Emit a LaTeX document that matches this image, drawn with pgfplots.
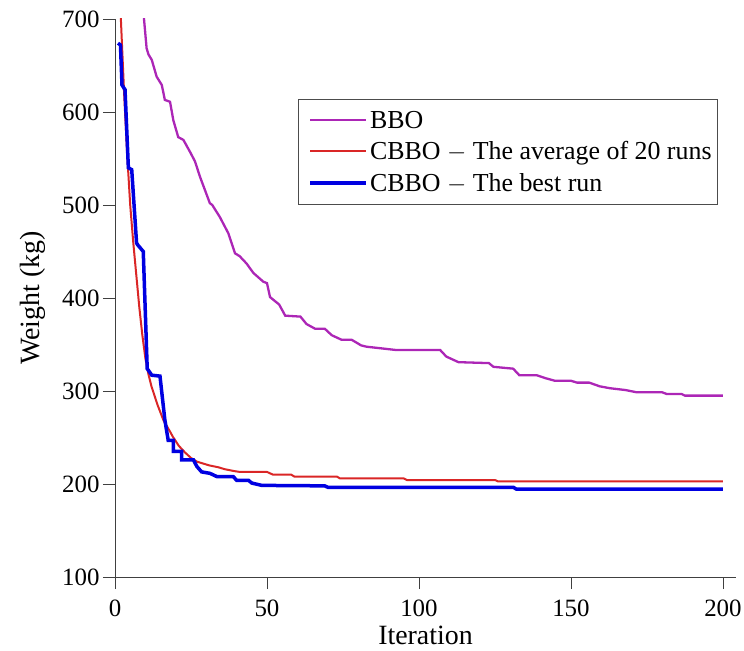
\documentclass[border=0pt]{standalone}
\usepackage{pgfplots}
\pgfplotsset{compat=1.18}
\usepackage{fontspec}
\setmainfont{Liberation Serif}
\definecolor{bbo}{RGB}{172,38,182}
\definecolor{cavg}{RGB}{218,38,38}
\definecolor{cbest}{RGB}{0,0,225}
\begin{document}
\begin{tikzpicture}
\begin{axis}[
  scale only axis,
  width=621bp, height=558bp,
  xmin=0, xmax=204.3, ymin=100, ymax=700,
  axis x line=bottom, axis y line=left,
  axis line style={-, line width=0.8bp, black!75},
  xtick={0,50,100,150,200},
  ytick={100,200,300,400,500,600,700},
  tick align=outside,
  major tick length=12bp,
  tick style={line width=0.8bp, black!75},
  /pgf/number format/assume math mode=true,
  ticklabel style={font=\fontsize{25}{30}\selectfont},
  xticklabel style={yshift=-7bp},
  xlabel={Iteration},
  ylabel={Weight (kg)},
  label style={font=\fontsize{28}{33}\selectfont},
  xlabel style={yshift=-3bp},
  ylabel style={yshift=10bp},
  legend cell align=left,
  legend style={at={(0.971,0.8565)}, anchor=north east,
    draw=black!70, line width=0.8bp,
    font=\fontsize{26}{31}\selectfont,
    row sep=8bp, inner xsep=4bp, inner ysep=9.5bp},
  legend image code/.code={\path (0bp,0bp); \draw[#1] (6bp,0bp) -- (62bp,0bp);},
  clip=true,
]
\addplot[color=bbo, line width=2.3bp] coordinates {
(9,720) (10.4,668.5) (11,662) (12.1,656) (13.7,638) (15.4,629) (16.4,613) (18.1,611)
(19.2,591) (20.8,573) (22.5,570) (24.7,557) (26.3,547) (28,530) (31.2,502) (32,500)
(34.5,487) (37.3,469.5) (39.5,448) (41,445) (43.3,437) (45.5,427) (48.8,417.5) (50,416)
(51,401) (54,393) (56,381) (61,380) (63,372) (65.8,367) (69,367) (71.3,360) (74.6,355)
(77.9,355) (81,349) (82.8,347.6) (87.2,346) (92.7,344) (107,344) (109,337) (113,331)
(123,330) (124.5,326) (131,324) (133,317) (138.7,317) (141.4,314) (144.7,311) (150,311)
(152,309) (156,309) (159.5,305) (162.8,303) (168,301) (171.6,298.6) (180,298.6)
(181.5,296.8) (186.4,296.8) (187.5,295) (200,295)
};
\addlegendentry{BBO}
\addplot[color=cavg, line width=2bp] coordinates {
(1,770) (2,695) (3,620) (4,555) (5,500) (6,460) (7,425) (8,390) (9,360) (10,335)
(11,318) (12,305) (13,295) (14,285) (16,268) (18,257) (19,251) (21,241) (23,234)
(25,228) (27,224) (29,222) (31,220) (34,218) (36,216) (39,214) (41,213) (50,213)
(52,210) (58,210) (59,208) (73,208) (74,206) (95,206) (96,204.3) (125,204.3)
(126,202.8) (200,202.8)
};
\addlegendentry{CBBO $-$ The average of 20 runs}
\addplot[color=cbest, line width=3.5bp] coordinates {
(1,674) (1.8,672) (2.3,629) (3.3,624) (4.4,540) (5.5,538) (7.1,459) (7.5,457)
(9.3,450) (10.6,324) (12.1,317) (14.8,316) (16.4,269) (17.5,247) (19.2,247) (19.2,235)
(21.9,235) (21.9,226) (25.8,226) (26.9,219) (28.5,213) (31.2,211.5) (33.5,208)
(38.9,208) (40,204) (43.9,204) (45,201) (48.3,198.5) (69,198) (70,196.5) (131,196.5)
(132,194.6) (200,194.6)
};
\addlegendentry{CBBO $-$ The best run}
\end{axis}
\pgfresetboundingbox
\path (current axis.south west) ++(-115bp,-74bp) rectangle ++(744bp,651bp);
\end{tikzpicture}
\end{document}
